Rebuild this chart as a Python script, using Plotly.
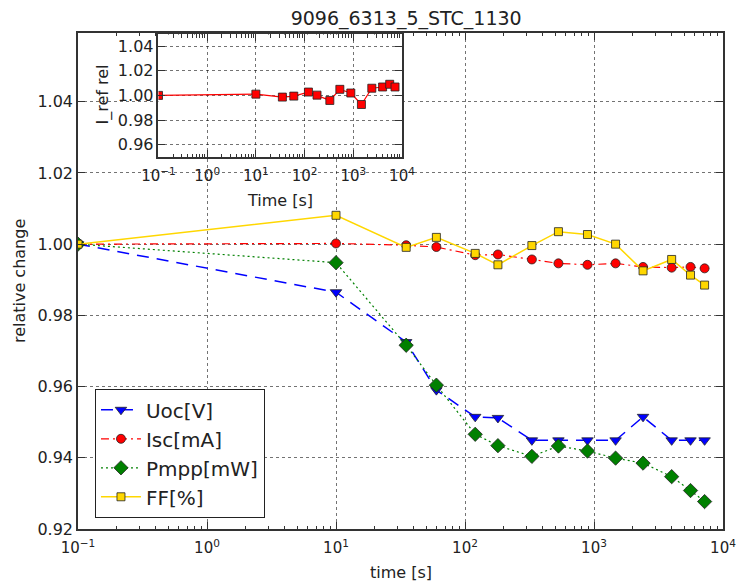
import plotly.graph_objects as go

# Measurement times [s]
time_s = [0.1, 10, 35, 60, 120, 180, 330, 530, 890, 1470, 2400, 4000, 5600, 7200]

# Relative change of the IV parameters
uoc = [1.000, 0.9865, 0.9725, 0.9590, 0.9515, 0.9512, 0.9449, 0.9449, 0.9449, 0.9449, 0.9515, 0.9449, 0.9449, 0.9449]
isc = [1.000, 1.0002, 0.9997, 0.9992, 0.9969, 0.9971, 0.9957, 0.9946, 0.9942, 0.9946, 0.9936, 0.9934, 0.9936, 0.9932]
pmpp = [1.000, 0.9948, 0.9716, 0.9604, 0.9466, 0.9434, 0.9404, 0.9433, 0.9419, 0.9399, 0.9385, 0.9347, 0.9308, 0.9277]
ff = [1.000, 1.0081, 0.9991, 1.0019, 0.9974, 0.9942, 0.9996, 1.0035, 1.0027, 1.0000, 0.9925, 0.9957, 0.9913, 0.9885]

# Reference current, relative
i_ref = [1.000, 1.0010, 0.9986, 0.9994, 1.0027, 1.0002, 0.9959, 1.0049, 1.0019, 0.9926, 1.0058, 1.0068, 1.0090, 1.0068]

decades = [0.1, 1, 10, 100, 1000, 10000]
decade_text = ["10<sup>\u22121</sup>", "10<sup>0</sup>", "10<sup>1</sup>",
               "10<sup>2</sup>", "10<sup>3</sup>", "10<sup>4</sup>"]
minor_vals = [k * d for d in decades[:-1] for k in range(2, 10)]

main_yticks = [0.92, 0.94, 0.96, 0.98, 1.00, 1.02, 1.04]
inset_yticks = [0.96, 0.98, 1.00, 1.02, 1.04]

FONT = "DejaVu Sans"
edge = dict(color="#222222", width=0.8)

fig = go.Figure()

fig.add_trace(go.Scatter(
    x=time_s, y=uoc, name="Uoc[V]", mode="lines+markers",
    line=dict(color="#0000ff", width=1.5, dash="12px,8px"),
    marker=dict(symbol="triangle-down", size=10, color="#0000ff", line=edge),
))
fig.add_trace(go.Scatter(
    x=time_s, y=isc, name="Isc[mA]", mode="lines+markers",
    line=dict(color="#ff0000", width=1.2, dash="8px,4px,2px,4px"),
    marker=dict(symbol="circle", size=9, color="#ff0000", line=edge),
))
fig.add_trace(go.Scatter(
    x=time_s, y=pmpp, name="Pmpp[mW]", mode="lines+markers",
    line=dict(color="#008000", width=1.2, dash="2px,3px"),
    marker=dict(symbol="diamond", size=11, color="#008000", line=edge),
))
fig.add_trace(go.Scatter(
    x=time_s, y=ff, name="FF[%]", mode="lines+markers",
    line=dict(color="#FFD700", width=1.5),
    marker=dict(symbol="square", size=8, color="#FFD700", line=edge),
))

# Inset: reference current
fig.add_trace(go.Scatter(
    x=time_s, y=i_ref, name="I_ref rel", mode="lines+markers",
    xaxis="x2", yaxis="y2", showlegend=False,
    line=dict(color="#ff0000", width=1.2),
    marker=dict(symbol="square", size=8, color="#ff0000", line=edge),
))

grid = dict(showgrid=True, gridcolor="rgba(0,0,0,0.55)", gridwidth=1, griddash="dot")
frame = dict(showline=True, linecolor="#333333", linewidth=1.6, mirror="ticks",
             ticks="inside", ticklen=7, tickwidth=1, tickcolor="#333333", zeroline=False)

log_x = dict(type="log", range=[-1, 4], tickmode="array", tickvals=decades,
             ticktext=decade_text, tickfont=dict(family=FONT, size=15, color="#222"),
             ticklabelstandoff=4,
             minor=dict(tickmode="array", tickvals=minor_vals, ticks="inside",
                        ticklen=3.5, tickcolor="#333333", showgrid=False),
             **grid, **frame)

fig.update_layout(
    width=748, height=585,
    margin=dict(l=78, r=13, t=33, b=56),
    paper_bgcolor="white", plot_bgcolor="white",
    font=dict(family=FONT, color="#222"),
    title=dict(text="9096_6313_5_STC_1130", x=0.543, xanchor="center",
               y=1 - 18 / 585, yanchor="middle", font=dict(family=FONT, size=19)),
    xaxis=dict(domain=[0, 1], anchor="y", **log_x),
    yaxis=dict(domain=[0, 1], anchor="x", range=[0.92, 1.0593], tickmode="array",
               tickvals=main_yticks, ticktext=[f"{v:.2f}" for v in main_yticks],
               tickfont=dict(family=FONT, size=16, color="#222"), **grid, **frame),
    xaxis2=dict(domain=[0.1248, 0.5023], anchor="y2", **log_x),
    yaxis2=dict(domain=[0.75, 0.997], anchor="x2", range=[0.95, 1.0494], tickmode="array",
                tickvals=inset_yticks, ticktext=[f"{v:.2f}" for v in inset_yticks],
                tickfont=dict(family=FONT, size=16, color="#222"), **grid, **frame),
    legend=dict(x=0.026, y=0.022, xanchor="left", yanchor="bottom",
                bgcolor="white", bordercolor="#222", borderwidth=1.2,
                font=dict(family=FONT, size=20), itemwidth=40),
    showlegend=True,
)

# Axis titles
label_font = dict(family=FONT, size=16, color="#222")
fig.add_annotation(text="time [s]", xref="paper", yref="paper", x=0.5, y=-(572 - 529) / 496,
                   xanchor="center", yanchor="middle", showarrow=False, font=label_font)
fig.add_annotation(text="relative change", xref="paper", yref="paper", x=-(78 - 18) / 657, y=0.5,
                   xanchor="center", yanchor="middle", textangle=-90, showarrow=False, font=label_font)
fig.add_annotation(text="Time [s]", xref="paper", yref="paper", x=(284 - 78) / 657,
                   y=(529 - 200) / 496, xanchor="center", yanchor="middle", showarrow=False,
                   font=label_font)
fig.add_annotation(text="I_ref rel", xref="paper", yref="paper", x=(103 - 78) / 657,
                   y=(529 - 95) / 496, xanchor="center", yanchor="middle", textangle=-90,
                   showarrow=False, font=label_font)

fig.write_html("out.html")
